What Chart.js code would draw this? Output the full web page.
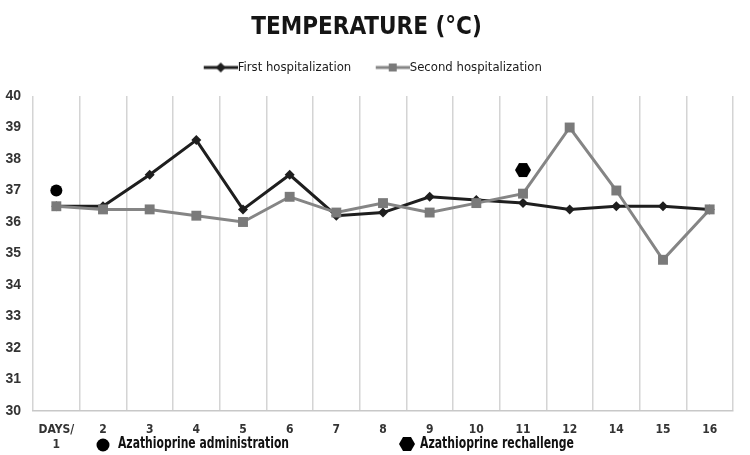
<!DOCTYPE html>
<html>
<head>
<meta charset="utf-8">
<script src="https://cdn.jsdelivr.net/npm/chart.js@4.4.1/dist/chart.umd.min.js"></script>
<style>
  html, body { margin: 0; padding: 0; background: #fff; }
  #wrap { width: 750px; height: 455px; position: relative; }
</style>
</head>
<body>
<div id="wrap"><canvas id="tempChart"></canvas></div>
<script>
  const days = [['DAYS/', '1'], '2', '3', '4', '5', '6', '7', '8', '9', '10', '11', '12', '14', '15', '16'];
  const firstHosp = [36.5, 36.5, 37.5, 38.6, 36.4, 37.5, 36.2, 36.3, 36.8, 36.7, 36.6, 36.4, 36.5, 36.5, 36.4];
  const secondHosp = [36.5, 36.4, 36.4, 36.2, 36.0, 36.8, 36.3, 36.6, 36.3, 36.6, 36.9, 39.0, 37.0, 34.8, 36.4];
  const azaAdmin = [37.0, null, null, null, null, null, null, null, null, null, null, null, null, null, null];
  const azaRechallenge = [null, null, null, null, null, null, null, null, null, null, 37.65, null, null, null, null];

  const condensed = "'DejaVu Sans Condensed', 'Liberation Sans Narrow', sans-serif";

  // little canvases used as point styles (legend samples + hexagon)
  function makeCanvas(w, h, draw) {
    const c = document.createElement('canvas');
    c.width = w; c.height = h;
    draw(c.getContext('2d'), w, h);
    return c;
  }

  const hexagon = makeCanvas(18, 16, function (g, w, h) {
    const r = 8, cx = w / 2, cy = h / 2;
    g.fillStyle = '#000';
    g.beginPath();
    for (let i = 0; i < 6; i++) {
      const a = i * Math.PI / 3;
      g.lineTo(cx + r * Math.cos(a), cy + r * Math.sin(a));
    }
    g.closePath();
    g.fill();
  });

  // legend samples: 19px transparent on the left so the line sits right before the text
  const blackSample = makeCanvas(53, 12, function (g, w, h) {
    const x0 = 19, mid = x0 + 17;
    g.strokeStyle = '#1e1e1e'; g.lineWidth = 3;
    g.beginPath(); g.moveTo(x0, h / 2); g.lineTo(w, h / 2); g.stroke();
    g.fillStyle = '#1e1e1e';
    g.beginPath();
    g.moveTo(mid - 5, h / 2); g.lineTo(mid, h / 2 - 5); g.lineTo(mid + 5, h / 2); g.lineTo(mid, h / 2 + 5);
    g.closePath(); g.fill();
  });

  const graySample = makeCanvas(53, 12, function (g, w, h) {
    const x0 = 19, mid = x0 + 17;
    g.strokeStyle = '#858585'; g.lineWidth = 3;
    g.beginPath(); g.moveTo(x0, h / 2); g.lineTo(w, h / 2); g.stroke();
    g.fillStyle = '#7a7a7a';
    g.fillRect(mid - 4, h / 2 - 4, 8, 8);
  });

  // more room under the top legend
  const legendGap = {
    id: 'legendGap',
    beforeInit(chart) {
      const fit = chart.legend.fit;
      chart.legend.fit = function () {
        fit.call(this);
        this.height += 12;
      };
    }
  };

  // legend at the bottom for the two event markers
  const bottomLegend = {
    id: 'bottomLegend',
    afterDraw(chart) {
      const ctx = chart.ctx;
      ctx.save();
      ctx.fillStyle = '#000';
      ctx.beginPath();
      ctx.arc(103, 445, 6.5, 0, Math.PI * 2);
      ctx.fill();
      ctx.drawImage(hexagon, 407 - hexagon.width / 2, 444 - hexagon.height / 2);
      ctx.font = "bold 16px " + condensed;
      ctx.textBaseline = 'middle';
      ctx.fillStyle = '#111';
      ctx.fillText('Azathioprine administration', 118, 444, 171);
      ctx.fillText('Azathioprine rechallenge', 420, 444, 154);
      ctx.restore();
    }
  };

  new Chart('tempChart', {
    type: 'line',
    data: {
      labels: days,
      datasets: [{
        label: 'First hospitalization',
        data: firstHosp,
        borderColor: '#1e1e1e',
        backgroundColor: '#1e1e1e',
        borderWidth: 3,
        pointStyle: 'rectRot',
        pointRadius: 5,
        pointBorderWidth: 0,
        order: 2
      }, {
        label: 'Second hospitalization',
        data: secondHosp,
        borderColor: '#858585',
        backgroundColor: '#7a7a7a',
        borderWidth: 3,
        pointStyle: 'rect',
        pointRadius: 7,
        pointBorderWidth: 0,
        order: 1
      }, {
        label: 'Azathioprine administration',
        data: azaAdmin,
        showLine: false,
        pointStyle: 'circle',
        pointRadius: 6,
        pointBorderWidth: 0,
        backgroundColor: '#000',
        order: 0
      }, {
        label: 'Azathioprine rechallenge',
        data: azaRechallenge,
        showLine: false,
        pointStyle: hexagon,
        pointRadius: 8,
        order: 0
      }]
    },
    options: {
      responsive: true,
      maintainAspectRatio: false,
      animation: false,
      layout: { padding: { left: 0, right: 17, top: 0, bottom: 0 } },
      plugins: {
        tooltip: { enabled: false },
        title: {
          display: true,
          text: 'TEMPERATURE (°C)',
          color: '#151515',
          font: { family: condensed, size: 24, weight: 'bold', lineHeight: 1 },
          padding: { top: 16, bottom: 9 }
        },
        legend: {
          position: 'top',
          labels: {
            color: '#1a1a1a',
            font: { family: condensed, size: 13 },
            usePointStyle: true,
            pointStyleWidth: 40,
            boxHeight: 12,
            padding: 12,
            generateLabels: function () {
              return [
                { text: 'First hospitalization', pointStyle: blackSample, fontColor: '#1a1a1a', datasetIndex: 0, lineWidth: 0 },
                { text: 'Second hospitalization', pointStyle: graySample, fontColor: '#1a1a1a', datasetIndex: 1, lineWidth: 0 }
              ];
            }
          }
        }
      },
      scales: {
        x: {
          offset: true,
          afterFit: function (axis) { axis.height = 44; },
          grid: { display: true, offset: true, color: '#d4d4d4', lineWidth: 1.5, drawTicks: false },
          border: { display: true, color: '#c8c8c8', width: 1.5 },
          ticks: {
            color: '#333',
            padding: 12,
            maxRotation: 0,
            autoSkip: false,
            font: { family: condensed, size: 12, weight: 'bold', lineHeight: 1.2 }
          }
        },
        y: {
          min: 30,
          max: 40,
          afterFit: function (axis) { axis.width = 33; },
          grid: { display: false, drawTicks: false },
          border: { display: false },
          ticks: {
            stepSize: 1,
            color: '#333',
            padding: 12,
            font: { family: "'Liberation Sans', Arial, sans-serif", size: 14, weight: 'bold' }
          }
        }
      }
    },
    plugins: [legendGap, bottomLegend]
  });
</script>
</body>
</html>
